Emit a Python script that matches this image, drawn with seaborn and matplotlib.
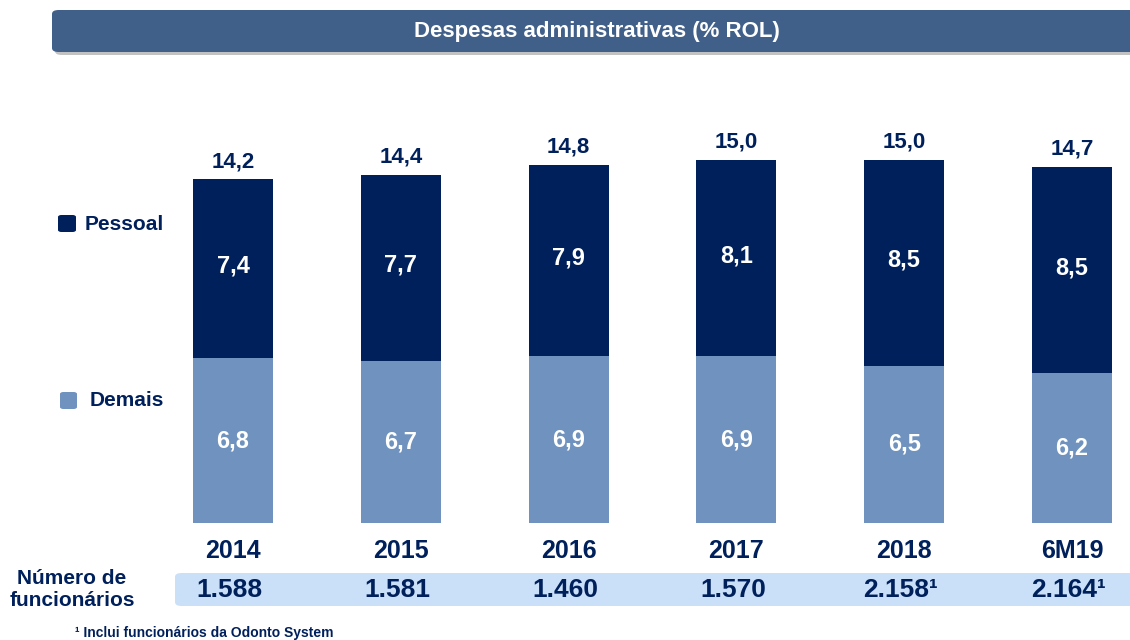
import matplotlib
matplotlib.use("Agg")
import matplotlib.pyplot as plt
import matplotlib.transforms as mtransforms
from matplotlib.patches import FancyBboxPatch
import pandas as pd
import seaborn as sns

periods = ["2014", "2015", "2016", "2017", "2018", "6M19"]
pessoal = [7.4, 7.7, 7.9, 8.1, 8.5, 8.5]
demais = [6.8, 6.7, 6.9, 6.9, 6.5, 6.2]
funcionarios = ["1.588", "1.581", "1.460", "1.570", "2.158\u00b9", "2.164\u00b9"]

NAVY = "#00205B"
LIGHT = "#6F93BE"
BANNER = "#416089"
BAND = "#CADFF8"
W, H = 1130, 640

sns.set_style("white")
plt.rcParams["font.family"] = ["Liberation Sans", "DejaVu Sans"]
plt.rcParams["font.weight"] = "bold"

df = pd.DataFrame({"periodo": periods, "pessoal": pessoal, "demais": demais})
df["total"] = df["pessoal"] + df["demais"]

fig = plt.figure(figsize=(W / 100, H / 100), dpi=100)


def fx(px):
    return px / W


def fy(py):
    return 1 - py / H


# bars: baseline at y=523px, ~24.2 px per unit, x centers 233 .. 1072
ax = fig.add_axes([0, fy(523), 1, (523 - 60) / H])
sns.barplot(data=df, x="periodo", y="total", color=NAVY, width=0.477,
            saturation=1, linewidth=0, ax=ax, zorder=2)
sns.barplot(data=df, x="periodo", y="demais", color=LIGHT, width=0.477,
            saturation=1, linewidth=0, ax=ax, zorder=3)
ax.set_xlim(-1.389, 5.346)
ax.set_ylim(0, 463 / 24.2)
ax.axis("off")

for i, row in df.iterrows():
    ax.text(i, row["demais"] / 2, f"{row['demais']:.1f}".replace(".", ","),
            ha="center", va="center", color="white", fontsize=17,
            fontweight="bold", zorder=4)
    ax.text(i, row["demais"] + row["pessoal"] / 2 + 0.1,
            f"{row['pessoal']:.1f}".replace(".", ","),
            ha="center", va="center", color="white", fontsize=17,
            fontweight="bold", zorder=4)
    ax.text(i, row["total"] + 0.3, f"{row['total']:.1f}".replace(".", ","),
            ha="center", va="bottom", color=NAVY, fontsize=16,
            fontweight="bold", zorder=4)

# title banner with shadow
fig.patches.append(FancyBboxPatch((fx(55), fy(55)), fx(1100), fy(13) - fy(55),
                                  boxstyle="round,pad=0,rounding_size=0.006",
                                  transform=fig.transFigure, facecolor="#9A9A9A",
                                  edgecolor="none", alpha=0.6, zorder=-2))
fig.patches.append(FancyBboxPatch((fx(52), fy(52)), fx(1100), fy(10) - fy(52),
                                  boxstyle="round,pad=0,rounding_size=0.006",
                                  transform=fig.transFigure, facecolor=BANNER,
                                  edgecolor="none", zorder=-1))
fig.text(fx(597), fy(31), "Despesas administrativas (% ROL)", ha="center",
         va="center", color="white", fontsize=16, fontweight="bold")

# legend
fig.patches.append(FancyBboxPatch((fx(58), fy(232)), fx(18), fy(215) - fy(232),
                                  boxstyle="round,pad=0,rounding_size=0.003",
                                  transform=fig.transFigure, facecolor=NAVY,
                                  edgecolor="none"))
fig.text(fx(85), fy(224), "Pessoal", ha="left", va="center", color=NAVY,
         fontsize=15, fontweight="bold")
fig.patches.append(FancyBboxPatch((fx(60), fy(409)), fx(17), fy(392) - fy(409),
                                  boxstyle="round,pad=0,rounding_size=0.003",
                                  transform=fig.transFigure, facecolor=LIGHT,
                                  edgecolor="none"))
fig.text(fx(90), fy(401), "Demais", ha="left", va="center", color=NAVY,
         fontsize=15, fontweight="bold")

# period labels and employee row
fig.patches.append(FancyBboxPatch((fx(175), fy(606)), fx(980), fy(573) - fy(606),
                                  boxstyle="round,pad=0,rounding_size=0.006",
                                  transform=fig.transFigure, facecolor=BAND,
                                  edgecolor="none", zorder=-1))
trans = mtransforms.blended_transform_factory(ax.transData, fig.transFigure)
for i, (p, n) in enumerate(zip(periods, funcionarios)):
    ax.text(i, fy(551), p, transform=trans, ha="center", va="center",
            color=NAVY, fontsize=18, fontweight="bold", clip_on=False,
            zorder=5)
    ax.text(i - 0.02, fy(590), n, transform=trans, ha="center", va="center",
            color=NAVY, fontsize=19, fontweight="bold", clip_on=False,
            zorder=5)

fig.text(fx(72), fy(589), "Número de\nfuncionários", ha="center", va="center",
         color=NAVY, fontsize=15, fontweight="bold", linespacing=1.2)
fig.text(fx(75), fy(633), "\u00b9 Inclui funcionários da Odonto System",
         ha="left", va="center", color=NAVY, fontsize=10, fontweight="bold")

fig.savefig("out.png", dpi=100)
plt.close(fig)
